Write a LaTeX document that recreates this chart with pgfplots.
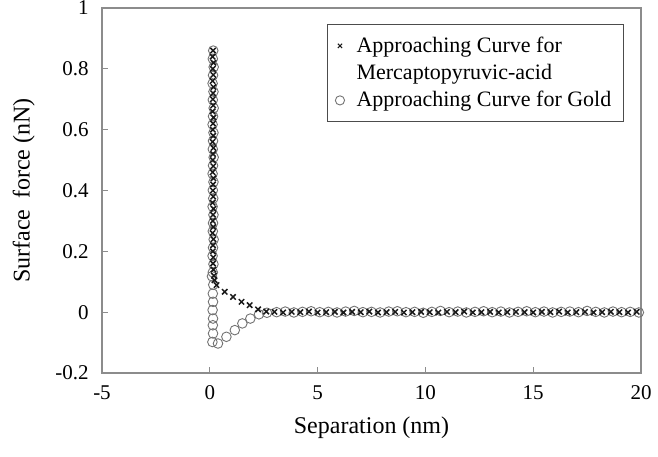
\documentclass[border=0pt]{standalone}
\usepackage{fontspec}
\setmainfont{Liberation Serif}
\usepackage{pgfplots}
\pgfplotsset{compat=1.18}

\definecolor{spine}{HTML}{8C8C8C}
\definecolor{ringgray}{HTML}{737373}
\definecolor{crossblk}{HTML}{1A1A1A}

\begin{document}
\begin{tikzpicture}
\begin{axis}[
    width=269.5pt, height=182.5pt,
    scale only axis=true,
    xmin=-5, xmax=20,
    ymin=-0.2, ymax=1,
    xtick={-5,0,5,10,15,20},
    ytick={-0.2,0,0.2,0.4,0.6,0.8,1},
    xtick pos=bottom, ytick pos=left,
    tick align=inside,
    major tick length=3pt,
    axis line style={spine, line width=0.6pt},
    every tick/.style={spine, line width=0.6pt},
    /pgf/number format/assume math mode=true,
    tick label style={font=\fontsize{10.5}{12}\selectfont},
    yticklabel style={inner sep=0pt, anchor=east, xshift=-6.5pt},
    xticklabel style={inner sep=0pt, anchor=north, yshift=-6pt},
    xlabel={Separation (nm)},
    ylabel={Surface\hspace{0.45em}force (nN)},
    label style={font=\fontsize{12}{14}\selectfont},
    xlabel style={at={(axis description cs:0.5,-0.15)}, anchor=center},
    ylabel style={at={(axis description cs:-0.145,0.5)}, anchor=center},
    legend style={
        at={(0.417,0.956)}, anchor=north west,
        draw=black!70, line width=0.6pt,
        font=\fontsize{11}{13.5}\selectfont,
        cells={anchor=west, align=left},
        inner xsep=4pt, inner ysep=4pt,
        row sep=0.5pt, column sep=4pt,
    },
]
% Gold (circles)
\addplot[forget plot, only marks, mark=o, mark size=2.4pt, ringgray, line width=0.45pt] coordinates {
(0.16,0.860)(0.14,0.833)(0.18,0.806)(0.15,0.779)(0.13,0.752)(0.17,0.725)(0.14,0.698)(0.18,0.671)
(0.15,0.644)(0.13,0.617)(0.17,0.590)(0.15,0.563)(0.14,0.536)(0.18,0.509)(0.15,0.482)(0.13,0.455)
(0.17,0.428)(0.14,0.401)(0.16,0.374)(0.13,0.347)(0.17,0.320)(0.15,0.293)(0.14,0.266)(0.18,0.239)
(0.15,0.212)(0.13,0.185)(0.17,0.158)(0.14,0.131)(0.10,0.118)(0.16,0.090)
(0.14,0.061)(0.15,0.034)(0.13,0.007)(0.15,-0.021)(0.14,-0.043)(0.15,-0.070)(0.12,-0.098)
(0.38,-0.103)(0.77,-0.081)(1.16,-0.059)(1.51,-0.037)(1.88,-0.021)(2.28,-0.007)(2.65,-0.002)
(3.1,0.000)(3.5,0.002)(3.9,-0.001)(4.3,0.001)(4.7,0.003)(5.1,0.000)(5.5,0.001)(5.9,-0.001)
(6.3,0.002)(6.7,0.004)(7.1,0.000)(7.5,0.001)(7.9,-0.001)(8.3,0.002)(8.7,0.003)(9.1,0.000)
(9.5,0.001)(9.9,-0.002)(10.3,0.001)(10.7,0.004)(11.1,0.000)(11.5,0.002)(11.9,-0.001)(12.3,0.001)
(12.7,0.003)(13.1,0.000)(13.5,0.002)(13.9,-0.001)(14.3,0.001)(14.7,0.003)(15.1,0.000)(15.5,0.002)
(15.9,-0.001)(16.3,0.001)(16.7,0.002)(17.1,0.000)(17.5,0.004)(17.9,0.001)(18.3,-0.001)(18.7,0.002)
(19.1,0.000)(19.5,0.001)(19.9,-0.001)
};
% Mercaptopyruvic-acid (crosses)
\addplot[forget plot, only marks, mark=x, mark size=1.9pt, crossblk, line width=0.75pt] coordinates {
(0.15,0.86)(0.13,0.84)(0.17,0.82)(0.14,0.80)(0.16,0.78)(0.13,0.76)(0.17,0.74)(0.15,0.72)
(0.14,0.70)(0.16,0.68)(0.13,0.66)(0.17,0.64)(0.15,0.62)(0.14,0.60)(0.16,0.58)(0.13,0.56)
(0.17,0.54)(0.15,0.52)(0.14,0.50)(0.16,0.48)(0.13,0.46)(0.17,0.44)(0.15,0.42)(0.14,0.40)
(0.16,0.38)(0.13,0.36)(0.17,0.34)(0.15,0.32)(0.14,0.30)(0.16,0.28)(0.13,0.26)(0.17,0.24)
(0.15,0.22)(0.14,0.20)(0.16,0.18)(0.15,0.16)(0.17,0.14)(0.19,0.12)(0.22,0.105)
(0.31,0.089)(0.69,0.067)(1.08,0.050)(1.47,0.034)(1.85,0.023)(2.24,0.009)(2.62,0.002)
(3.0,0.001)(3.4,-0.001)(3.8,0.001)(4.2,0.000)(4.6,0.002)(5.0,-0.001)(5.4,0.000)(5.8,0.001)
(6.2,-0.001)(6.6,0.001)(7.0,0.000)(7.4,0.002)(7.8,-0.001)(8.2,0.000)(8.6,0.001)(9.0,-0.001)
(9.4,0.000)(9.8,0.001)(10.2,0.000)(10.6,-0.001)(11.0,0.001)(11.4,0.000)(11.8,0.002)(12.2,-0.001)
(12.6,0.000)(13.0,0.001)(13.4,-0.001)(13.8,0.000)(14.2,0.001)(14.6,0.000)(15.0,-0.001)(15.4,0.001)
(15.8,0.000)(16.2,0.002)(16.6,-0.001)(17.0,0.000)(17.4,0.001)(17.8,-0.001)(18.2,0.000)(18.6,0.001)
(19.0,0.000)(19.4,-0.001)(19.8,0.001)
};
\addlegendimage{only marks, mark=x, mark size=1.5pt, crossblk, line width=0.5pt, yshift=6.75pt}
\addlegendentry{Approaching Curve for\\Mercaptopyruvic-acid}
\addlegendimage{only marks, mark=o, mark size=2.3pt, ringgray, line width=0.45pt}
\addlegendentry{Approaching Curve for Gold}
\end{axis}
\pgfresetboundingbox
\useasboundingbox ([xshift=-51pt,yshift=-41.5pt]current axis.south west)
  rectangle ([xshift=8.5pt,yshift=4pt]current axis.north east);
\end{tikzpicture}
\end{document}
